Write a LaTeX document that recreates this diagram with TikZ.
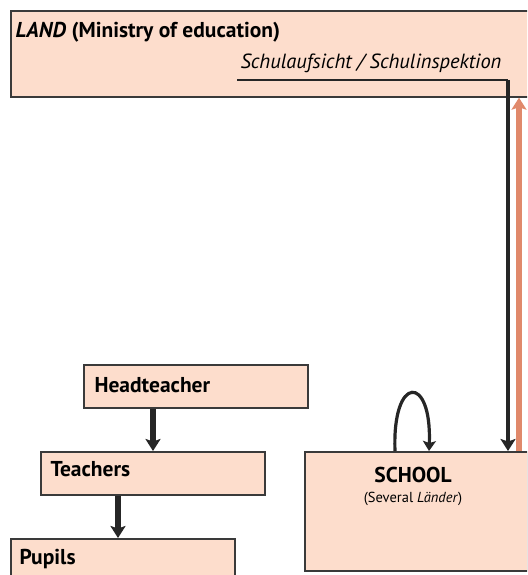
\documentclass[tikz,border=0pt]{standalone}
\usepackage{fontspec}
\setmainfont{PT Sans}
\usetikzlibrary{arrows.meta, positioning, calc}
\definecolor{boxfill}{HTML}{FDDDCC}
\definecolor{boxline}{HTML}{3A3A3A}
\definecolor{feedback}{HTML}{E0896B}

\begin{document}
\begin{tikzpicture}[
    x=1pt, y=-1pt,
    every node/.style={font=\fontsize{20.5}{23}\selectfont},
    block/.style={draw=boxline, fill=boxfill, line width=1.7pt, anchor=north west, inner sep=0pt},
    staff/.style={block, minimum width=224, minimum height=43},
    lbl/.style={font=\fontsize{21.5}{24}\selectfont\bfseries, anchor=west},
    arrow/.style={-{Stealth[length=12pt, width=15pt, inset=2.5pt]}, line width=5.5pt, draw=black!85},
    uparrow/.style={-{Stealth[length=12pt, width=15pt, inset=2.5pt]}, line width=5.5pt, draw=feedback},
    loop/.style={-{Stealth[length=10pt, width=13pt, inset=2pt]}, line width=3.2pt, draw=black!85}
]
    \useasboundingbox (0,0) rectangle (527,575);
    \clip (0,0) rectangle (527,575);

    % Land level
    \node[block, minimum width=530, minimum height=86] (land) at (10,10) {};
    \node[lbl, anchor=base west] (title) at (12,38) {\textit{LAND} (Ministry of education)};
    \node[anchor=base west] (insp) at (237,69) {\textit{Schulaufsicht / Schulinspektion}};
    \coordinate (turn) at (508,80);

    % school level
    \node[staff] (head) at (83,364) {};
    \node[staff] (teach) at (40,451) {};
    \node[staff] (pupils) at (10,538) {};
    \node[lbl] at ($(head.west)+(8,-1)$) {Headteacher};
    \node[lbl] at ($(teach.west)+(7,-4)$) {Teachers};
    \node[lbl] at ($(pupils.west)+(6,-1)$) {Pupils};

    \node[block, minimum width=223, minimum height=119] (school) at (304,451) {};
    \node[lbl, anchor=center] (schoolname) at (413,475) {SCHOOL};
    \node[font=\fontsize{14.5}{16}\selectfont, below=2pt of schoolname] {(Several \textit{Länder})};

    \coordinate (hx) at (153,0);
    \coordinate (tx) at (118,0);
    \coordinate (lx) at (519,0);

    \draw[arrow] (head.south -| hx) -- (teach.north -| hx);
    \draw[arrow] (teach.south -| tx) -- (pupils.north -| tx);

    \draw[line width=1.8pt, draw=black!85] (insp.base west |- turn) -- (turn);
    \draw[arrow, line width=4.8pt] (turn) -- (school.north -| turn);
    \draw[uparrow] (school.north -| lx) -- (land.south -| lx);

    \draw[loop] ($(school.north west)+(91,0)$) .. controls +(-3,-77) and +(3,-77) .. ($(school.north west)+(125,0)$);
\end{tikzpicture}
\end{document}
